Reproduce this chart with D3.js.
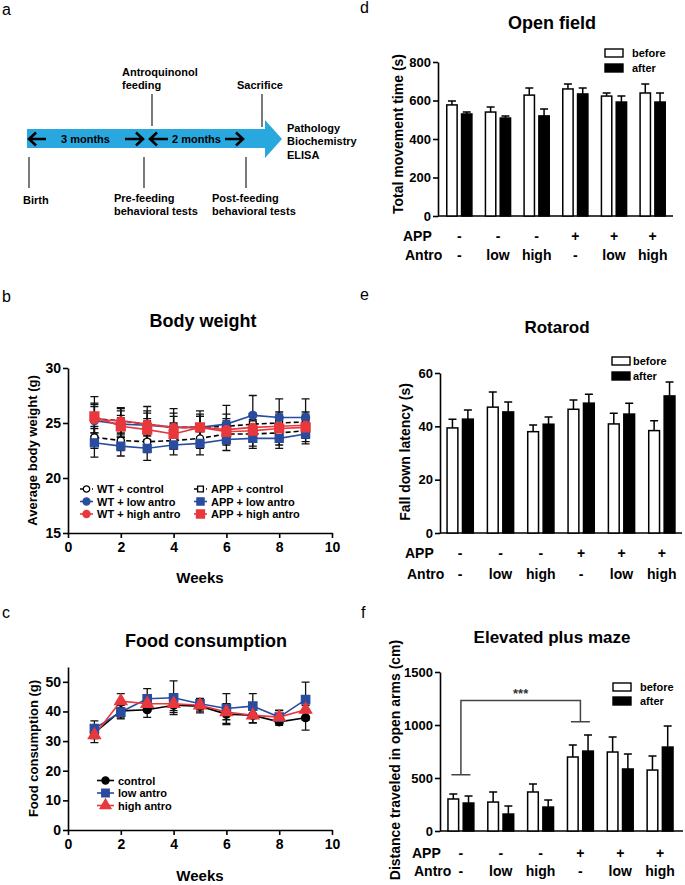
<!DOCTYPE html>
<html><head><meta charset="utf-8">
<script src="https://cdn.jsdelivr.net/npm/d3@7"></script>
<style>
html,body{margin:0;padding:0;background:#fff;}
svg{display:block;font-family:"Liberation Sans",Arial,Helvetica,sans-serif;}
</style></head><body>
<svg id="fig" width="685" height="885"></svg>
<script>
// ---------------- DATA ----------------
const weeks = [1, 2, 3, 4, 5, 6, 7, 8, 9];
const weekTicks = [0, 2, 4, 6, 8, 10];

// Panel b: body weight (g)
const bwNames = ["WT + control", "WT + low antro", "WT + high antro", "APP + control", "APP + low antro", "APP + high antro"];
const bwYTicks = [15, 20, 25, 30];
const bwWTControl    = [23.7, 23.4, 23.3, 23.4, 23.6, 24.0, 24.0, 24.1, 24.3];
const bwWTControlErr = [1.0, 0.9, 1.0, 0.8, 0.9, 1.0, 1.1, 1.1, 1.0];
const bwWTLow        = [25.2, 24.9, 24.8, 24.6, 24.6, 24.9, 25.7, 25.5, 25.5];
const bwWTLowErr     = [1.6, 1.2, 1.3, 1.3, 1.2, 1.7, 1.8, 1.7, 1.7];
const bwWTHigh       = [25.3, 25.2, 24.9, 24.6, 24.6, 24.4, 24.6, 24.7, 24.8];
const bwWTHighErr    = [1.2, 1.2, 1.6, 1.7, 1.5, 1.0, 1.2, 1.1, 1.0];
const bwAPPControl    = [25.4, 25.2, 24.9, 24.6, 24.6, 24.7, 24.9, 25.0, 25.1];
const bwAPPControlErr = [1.3, 1.1, 1.0, 1.0, 1.0, 1.1, 1.0, 1.0, 0.9];
const bwAPPLow        = [23.2, 22.9, 22.7, 23.0, 23.15, 23.5, 23.6, 23.6, 24.0];
const bwAPPLowErr     = [1.3, 0.9, 1.1, 0.9, 1.05, 1.0, 0.9, 0.9, 0.9];
const bwAPPHigh       = [25.6, 24.7, 24.4, 24.0, 24.6, 24.2, 24.3, 24.5, 24.6];
const bwAPPHighErr    = [1.8, 1.0, 1.0, 1.0, 1.0, 1.0, 1.0, 1.0, 1.0];

// Panel c: food consumption (g)
const fcNames = ["control", "low antro", "high antro"];
const fcYTicks = [0, 10, 20, 30, 40, 50];
const fcControl    = [32.8, 40.2, 40.6, 42.1, 41.8, 39.1, 38.7, 36.5, 37.9];
const fcControlErr = [2.0, 2.4, 2.6, 2.5, 2.3, 3.5, 2.6, 1.2, 4.2];
const fcLow        = [34.2, 39.8, 44.3, 44.6, 42.6, 41.0, 41.8, 38.1, 44.0];
const fcLowErr     = [2.6, 2.3, 3.4, 5.7, 1.8, 5.0, 4.2, 2.3, 5.9];
const fcHigh       = [32.0, 43.5, 42.6, 42.6, 42.1, 39.8, 38.7, 38.1, 40.6];
const fcHighErr    = [2.5, 2.5, 2.4, 2.3, 2.0, 2.6, 2.5, 2.2, 3.5];

// Bar panels: groups
const appLabels   = ["-", "-", "-", "+", "+", "+"];
const antroLabels = ["-", "low", "high", "-", "low", "high"];
const conditions  = ["before", "after"];

// Panel d: open field, total movement time (s)
const ofYTicks = [0, 200, 400, 600, 800];
const ofBefore    = [577, 540, 628, 660, 623, 639];
const ofBeforeErr = [20, 26, 37, 26, 16, 47];
const ofAfter     = [530, 509, 520, 634, 592, 592];
const ofAfterErr  = [10, 11, 36, 31, 31, 47];

// Panel e: rotarod, fall down latency (s)
const rrYTicks = [0, 20, 40, 60];
const rrBefore    = [39.4, 47.2, 38.0, 46.4, 40.9, 38.4];
const rrBeforeErr = [3.3, 5.7, 2.5, 3.5, 4.0, 3.7];
const rrAfter     = [42.7, 45.4, 40.8, 48.7, 44.6, 51.4];
const rrAfterErr  = [3.4, 3.7, 2.7, 3.3, 4.1, 5.2];

// Panel f: elevated plus maze, distance in open arms (cm)
const epYTicks = [0, 500, 1000, 1500];
const epBefore    = [302, 273, 368, 698, 745, 575];
const epBeforeErr = [47, 95, 75, 113, 141, 132];
const epAfter     = [264, 160, 226, 754, 585, 792];
const epAfterErr  = [66, 76, 66, 151, 141, 198];
const epSigGroups = [0, 3];            // bracket from group 1 to group 4
const epSigLevels = [530, 1230, 1030]; // left foot, top, right foot
const epSigLabel  = "***";

// ---------------- DRAWING ----------------
const svg = d3.select("#fig");
const BLUE = "#2a4c9e", RED = "#e8383d", ARROW = "#29a8df";
const FONT = '"Liberation Sans", Arial, Helvetica, sans-serif';
const intFmt = d3.format("d");

function txt(x, y, s, size, opts = {}) {
  return svg.append("text").attr("x", x).attr("y", y).text(s)
    .attr("font-size", size).attr("font-weight", opts.weight || "bold")
    .attr("text-anchor", opts.anchor || "start").attr("fill", opts.fill || "#000")
    .attr("font-family", FONT);
}
function vlabel(cx, cy, s, size) {
  svg.append("text").attr("transform", `translate(${cx},${cy}) rotate(-90)`)
    .attr("text-anchor", "middle").attr("font-size", size).attr("font-weight", "bold")
    .attr("font-family", FONT).text(s);
}
function styleAxis(g, size) {
  g.select(".domain").attr("stroke", "#000").attr("stroke-width", 1.6);
  g.selectAll(".tick line").attr("stroke", "#000").attr("stroke-width", 1.6);
  g.selectAll(".tick text").attr("font-size", size).attr("font-weight", "bold")
    .attr("font-family", FONT).attr("fill", "#000");
}

// panel letters
[["a", 2, 15], ["b", 2, 302], ["c", 2, 618], ["d", 360, 13], ["e", 360, 300], ["f", 361, 618]]
  .forEach(([s, x, y]) => txt(x, y, s, 16, { weight: "normal" }));

// ---------- Panel a: timeline ----------
svg.append("rect").attr("x", 27).attr("y", 129).attr("width", 239).attr("height", 19).attr("fill", ARROW);
svg.append("polygon").attr("points", "265,120 282,139 265,158").attr("fill", ARROW);
[[152, 94, 126], [262, 94, 127], [29, 157, 188], [144, 157, 188], [246, 157, 188]].forEach(([x, y1, y2]) =>
  svg.append("line").attr("x1", x).attr("x2", x).attr("y1", y1).attr("y2", y2).attr("stroke", "#222").attr("stroke-width", 1.2));
function arrowSym(x1, x2, dir) {
  const tip = dir < 0 ? x1 : x2;
  svg.append("path")
    .attr("d", `M${x1},139H${x2}M${tip - dir * 7},132.5L${tip},139L${tip - dir * 7},145.5`)
    .attr("fill", "none").attr("stroke", "#000").attr("stroke-width", 2.6);
}
arrowSym(29, 46, -1); arrowSym(125, 143, 1); arrowSym(150, 168, -1); arrowSym(225, 243, 1);
txt(61, 143, "3 months", 11); txt(172, 143, "2 months", 11);
txt(122, 76, "Antroquinonol", 11); txt(122, 89, "feeding", 11);
txt(237, 89, "Sacrifice", 11);
txt(287, 132, "Pathology", 11); txt(287, 145, "Biochemistry", 11); txt(287, 159, "ELISA", 11);
txt(23, 204, "Birth", 11);
txt(114, 202, "Pre-feeding", 11); txt(114, 215, "behavioral tests", 11);
txt(212, 202, "Post-feeding", 11); txt(212, 215, "behavioral tests", 11);

// ---------- Line panels ----------
function linePanel(cfg) {
  const x = d3.scaleLinear().domain([0, 10]).range([68, 332]);
  const y = d3.scaleLinear().domain(cfg.yDomain).range(cfg.yRange);
  const ya = svg.append("g").attr("transform", "translate(68,0)")
    .call(d3.axisLeft(y).tickValues(cfg.yTicks).tickFormat(intFmt).tickSize(5).tickSizeOuter(0).tickPadding(2));
  styleAxis(ya, 14);
  const xa = svg.append("g").attr("transform", `translate(0,${cfg.yRange[0]})`)
    .call(d3.axisBottom(x).tickValues(weekTicks).tickFormat(intFmt).tickSize(5).tickSizeOuter(0).tickPadding(4));
  styleAxis(xa, 14);
  const g = svg.append("g");
  const line = d3.line().x(d => x(d.w)).y(d => y(d.v));
  const pts = s => weeks.map((w, i) => ({ w, v: s.values[i], e: s.errs[i] }));
  cfg.series.forEach(s => {
    g.append("path").datum(pts(s)).attr("d", line).attr("fill", "none")
      .attr("stroke", s.color).attr("stroke-width", 1.6).attr("stroke-dasharray", s.dash ? "5,3" : null);
  });
  cfg.series.forEach(s => {
    pts(s).forEach(d => {
      const xx = x(d.w), t = y(d.v + d.e), b = y(d.v - d.e);
      g.append("path").attr("d", `M${xx},${t}V${b}M${xx - 4},${t}H${xx + 4}M${xx - 4},${b}H${xx + 4}`)
        .attr("stroke", "#111").attr("stroke-width", 1.3).attr("fill", "none");
    });
  });
  cfg.series.forEach(s => {
    g.selectAll(null).data(pts(s)).join("path")
      .attr("transform", d => `translate(${x(d.w)},${y(d.v)})`)
      .attr("d", d3.symbol().type(s.symbol).size(s.size))
      .attr("fill", s.fill).attr("stroke", s.color).attr("stroke-width", 1.3);
  });
  // legend
  cfg.series.forEach(s => {
    const lx = cfg.legX[s.col], ly = cfg.legY[s.row];
    svg.append("line").attr("x1", lx).attr("x2", lx + cfg.legLen).attr("y1", ly).attr("y2", ly)
      .attr("stroke", s.color).attr("stroke-width", 1.6).attr("stroke-dasharray", s.dash ? "4,2" : null);
    svg.append("path").attr("transform", `translate(${lx + cfg.legLen / 2},${ly})`)
      .attr("d", d3.symbol().type(s.symbol).size(s.size * 0.8))
      .attr("fill", s.fill).attr("stroke", s.color).attr("stroke-width", 1.3);
    txt(lx + cfg.legLen + 4, ly + 4, s.name, 11);
  });
  txt(cfg.titleX, cfg.titleY, cfg.title, 18, { anchor: "middle" });
  txt(200, cfg.weeksY, "Weeks", 15, { anchor: "middle" });
  vlabel(cfg.yLabelX, (cfg.yRange[0] + cfg.yRange[1]) / 2, cfg.yLabel, 13);
}

linePanel({
  yDomain: [15, 30], yRange: [533, 368], yTicks: bwYTicks,
  title: "Body weight", titleX: 203, titleY: 327, weeksY: 583,
  yLabel: "Average body weight (g)", yLabelX: 37,
  legX: [80, 194], legY: [489, 501.5, 514], legLen: 13,
  series: [
    { name: bwNames[0], values: bwWTControl, errs: bwWTControlErr, color: "#000", fill: "#fff", symbol: d3.symbolCircle, size: 40, dash: true, col: 0, row: 0 },
    { name: bwNames[3], values: bwAPPControl, errs: bwAPPControlErr, color: "#000", fill: "#fff", symbol: d3.symbolSquare, size: 42, dash: true, col: 1, row: 0 },
    { name: bwNames[1], values: bwWTLow, errs: bwWTLowErr, color: BLUE, fill: BLUE, symbol: d3.symbolCircle, size: 50, col: 0, row: 1 },
    { name: bwNames[4], values: bwAPPLow, errs: bwAPPLowErr, color: BLUE, fill: BLUE, symbol: d3.symbolSquare, size: 64, col: 1, row: 1 },
    { name: bwNames[2], values: bwWTHigh, errs: bwWTHighErr, color: RED, fill: RED, symbol: d3.symbolCircle, size: 50, col: 0, row: 2 },
    { name: bwNames[5], values: bwAPPHigh, errs: bwAPPHighErr, color: RED, fill: RED, symbol: d3.symbolSquare, size: 80, col: 1, row: 2 }
  ]
});

linePanel({
  yDomain: [0, 55], yRange: [830, 667], yTicks: fcYTicks,
  title: "Food consumption", titleX: 206, titleY: 647, weeksY: 881,
  yLabel: "Food consumption (g)", yLabelX: 38,
  legX: [97], legY: [780.5, 793, 805.5], legLen: 17,
  series: [
    { name: fcNames[0], values: fcControl, errs: fcControlErr, color: "#000", fill: "#000", symbol: d3.symbolCircle, size: 50, col: 0, row: 0 },
    { name: fcNames[1], values: fcLow, errs: fcLowErr, color: BLUE, fill: BLUE, symbol: d3.symbolSquare, size: 70, col: 0, row: 1 },
    { name: fcNames[2], values: fcHigh, errs: fcHighErr, color: RED, fill: RED, symbol: d3.symbolTriangle, size: 65, col: 0, row: 2 }
  ]
});

// ---------- Bar panels ----------
function barPanel(cfg) {
  const x0 = d3.scaleBand().domain(d3.range(cfg.before.length)).range(cfg.bandRange)
    .paddingInner(0.35).paddingOuter(0.175);
  const x1 = d3.scaleBand().domain(conditions).range([0, x0.bandwidth()]).paddingInner(0.3);
  const y = d3.scaleLinear().domain(cfg.yDomain).range(cfg.yRange);
  const ya = svg.append("g").attr("transform", `translate(${cfg.axisX},0)`)
    .call(d3.axisLeft(y).tickValues(cfg.yTicks).tickFormat(intFmt).tickSize(5).tickSizeOuter(0).tickPadding(2));
  styleAxis(ya, 13);
  svg.append("line").attr("x1", cfg.axisX).attr("x2", cfg.axisEnd).attr("y1", y(0)).attr("y2", y(0))
    .attr("stroke", "#000").attr("stroke-width", 1.6);
  const vals = { before: cfg.before, after: cfg.after };
  const errs = { before: cfg.beforeErr, after: cfg.afterErr };
  const g = svg.append("g");
  conditions.forEach(c => {
    vals[c].forEach((v, i) => {
      const bx = x0(i) + x1(c), bw = x1.bandwidth(), cx = bx + bw / 2;
      const top = y(v + errs[c][i]);
      g.append("path").attr("d", `M${cx},${y(v)}V${top}M${cx - 4},${top}H${cx + 4}`)
        .attr("stroke", "#000").attr("stroke-width", 1.5).attr("fill", "none");
      g.append("rect").attr("x", bx).attr("width", bw).attr("y", y(v)).attr("height", y(0) - y(v))
        .attr("fill", c === "before" ? "#fff" : "#000").attr("stroke", "#000").attr("stroke-width", 1.5);
    });
  });
  appLabels.forEach((s, i) => txt(x0(i) + x0.bandwidth() / 2, cfg.appY, s, 14, { anchor: "middle" }));
  antroLabels.forEach((s, i) => txt(x0(i) + x0.bandwidth() / 2, cfg.antroY, s, 14, { anchor: "middle" }));
  txt(cfg.rowLabelX, cfg.appY, "APP", 14);
  txt(cfg.rowLabelX + 2, cfg.antroY, "Antro", 14);
  conditions.forEach((c, k) => {
    svg.append("rect").attr("x", cfg.legX).attr("y", cfg.legY[k] - 8).attr("width", 18).attr("height", 8)
      .attr("fill", c === "before" ? "#fff" : "#000").attr("stroke", "#000").attr("stroke-width", 1.4);
    txt(cfg.legX + cfg.legGap, cfg.legY[k], c, 11);
  });
  txt(cfg.titleX, cfg.titleY, cfg.title, cfg.titleSize, { anchor: "middle" });
  vlabel(cfg.yLabelX, cfg.yLabelY, cfg.yLabel, 14);
  return { x0, y };
}

barPanel({
  before: ofBefore, beforeErr: ofBeforeErr, after: ofAfter, afterErr: ofAfterErr,
  yDomain: [0, 800], yRange: [216, 62], yTicks: ofYTicks,
  axisX: 438, axisEnd: 673, bandRange: [440, 672],
  appY: 241, antroY: 260, rowLabelX: 403,
  legX: 605, legGap: 27, legY: [57, 72],
  title: "Open field", titleX: 552, titleY: 29, titleSize: 18,
  yLabel: "Total movement time (s)", yLabelX: 403, yLabelY: 134
});

barPanel({
  before: rrBefore, beforeErr: rrBeforeErr, after: rrAfter, afterErr: rrAfterErr,
  yDomain: [0, 60], yRange: [533, 373], yTicks: rrYTicks,
  axisX: 440, axisEnd: 682, bandRange: [440, 682],
  appY: 558, antroY: 579, rowLabelX: 405,
  legX: 612, legGap: 21, legY: [365, 380],
  title: "Rotarod", titleX: 557, titleY: 333, titleSize: 17,
  yLabel: "Fall down latency (s)", yLabelX: 410, yLabelY: 452
});

const ep = barPanel({
  before: epBefore, beforeErr: epBeforeErr, after: epAfter, afterErr: epAfterErr,
  yDomain: [0, 1500], yRange: [831, 672], yTicks: epYTicks,
  axisX: 440, axisEnd: 683, bandRange: [441, 680],
  appY: 858, antroY: 876, rowLabelX: 412,
  legX: 613, legGap: 27, legY: [691, 705],
  title: "Elevated plus maze", titleX: 552, titleY: 643, titleSize: 17,
  yLabel: "Distance traveled in open arms (cm)", yLabelX: 400, yLabelY: 760
});
{
  const xa = ep.x0(epSigGroups[0]) + ep.x0.bandwidth() / 2;
  const xb = ep.x0(epSigGroups[1]) + ep.x0.bandwidth() / 2;
  const [lf, tp, rf] = epSigLevels.map(v => ep.y(v));
  svg.append("path")
    .attr("d", `M${xa - 9.5},${lf}H${xa + 9.5}M${xa},${lf}V${tp}H${xb}V${rf}M${xb - 9.5},${rf}H${xb + 9.5}`)
    .attr("fill", "none").attr("stroke", "#444").attr("stroke-width", 1.5);
  txt((xa + xb) / 2, tp - 3, epSigLabel, 13, { anchor: "middle", fill: "#333" });
}
</script>
</body></html>
